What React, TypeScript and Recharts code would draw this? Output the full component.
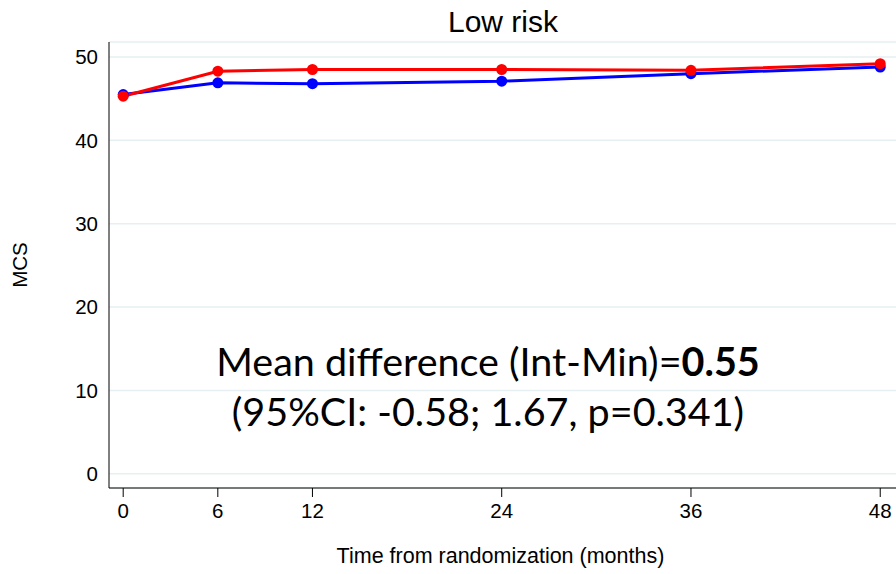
import React from 'react';
import { LineChart, Line, XAxis, YAxis, CartesianGrid } from 'recharts';

const months = [0, 6, 12, 24, 36, 48];
const minimalValues = [45.5, 46.9, 46.8, 47.1, 48.0, 48.8];
const intensiveValues = [45.3, 48.3, 48.5, 48.5, 48.4, 49.2];
const xTicks = [0, 6, 12, 24, 36, 48];
const yTicks = [0, 10, 20, 30, 40, 50];

const data = months.map((m, i) => ({ month: m, blue: minimalValues[i], red: intensiveValues[i] }));

export default function App() {
  return (
    <div style={{ position: 'absolute', left: 0, top: 0, width: 896, height: 574, background: '#fff', fontFamily: 'Liberation Sans, Arial, sans-serif' }}>
      <LineChart width={896} height={574} data={data} margin={{ top: 42, right: 0, left: 50, bottom: 46 }}>
        <CartesianGrid vertical={false} stroke="#e6eff1" strokeWidth={1.5} />
        <XAxis
          dataKey="month"
          type="number"
          domain={[-0.9, 49]}
          ticks={xTicks}
          height={40}
          stroke="#000"
          tick={{ fill: '#000', fontSize: 20.5 }}
          tickSize={9}
          tickMargin={6}
          interval={0}
        />
        <YAxis
          type="number"
          domain={[-1.7, 51.8]}
          ticks={yTicks}
          width={59}
          stroke="#000"
          tickLine={false}
          tick={{ fill: '#000', fontSize: 20.5 }}
          tickMargin={5}
          interval={0}
        />
        <Line dataKey="blue" stroke="#0000ff" strokeWidth={3} dot={{ r: 5.5, fill: '#0000ff', stroke: '#0000ff', strokeWidth: 0 }} isAnimationActive={false} />
        <Line dataKey="red" stroke="#ff0000" strokeWidth={3} dot={{ r: 5.5, fill: '#ff0000', stroke: '#ff0000', strokeWidth: 0 }} isAnimationActive={false} />
      </LineChart>
      <div style={{ position: 'absolute', left: 0, width: 1006, top: 4, textAlign: 'center', fontSize: 30, lineHeight: '36px', color: '#000' }}>Low risk</div>
      <div style={{ position: 'absolute', left: 120, width: 761, top: 543, textAlign: 'center', fontSize: 21.5, lineHeight: '26px', color: '#000' }}>Time from randomization (months)</div>
      <div style={{ position: 'absolute', left: 20, top: 265, transform: 'translate(-50%, -50%) rotate(-90deg)', fontSize: 20.5, color: '#000' }}>MCS</div>
      <div style={{ position: 'absolute', left: 120, width: 736, top: 336, textAlign: 'center', fontSize: 39.5, lineHeight: '50px', color: '#000', fontFamily: 'Lato, sans-serif' }}>
        <div>Mean difference (Int-Min)=<b>0.55</b></div>
        <div>(95%CI: -0.58; 1.67, p=0.341)</div>
      </div>
    </div>
  );
}
